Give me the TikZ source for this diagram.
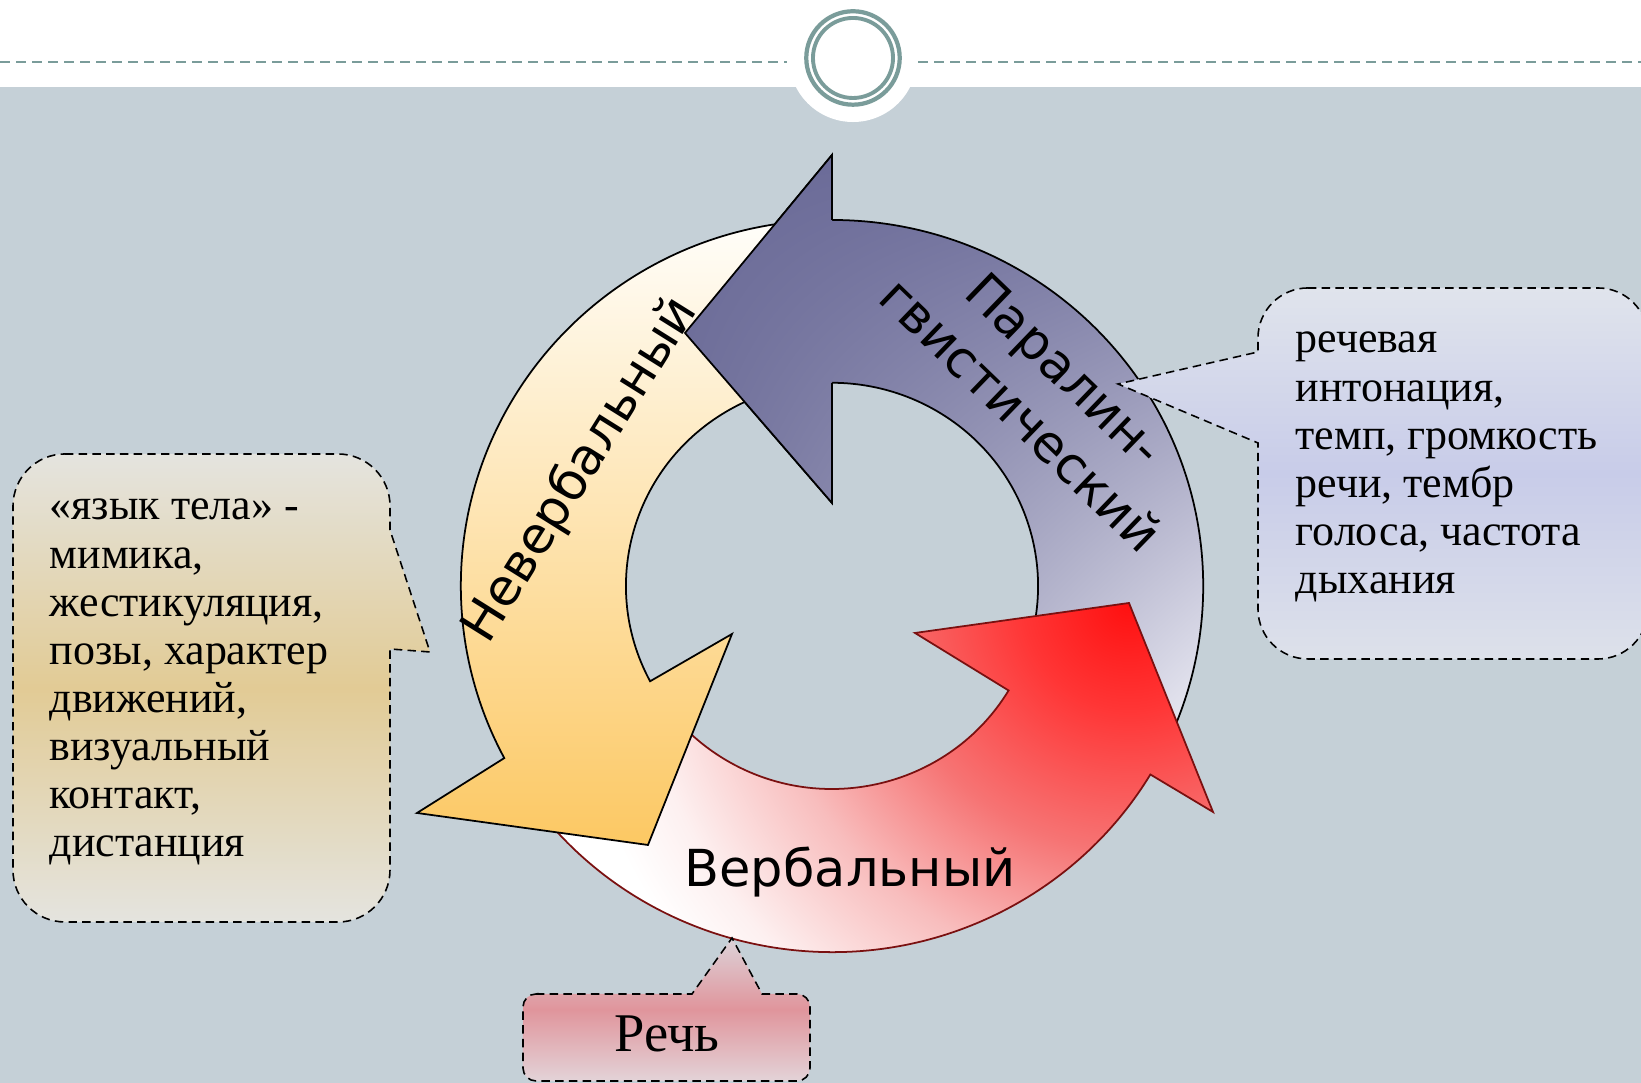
\documentclass[tikz,border=0pt]{standalone}
\usepackage{fontspec}
\setmainfont{Liberation Serif}
\newfontfamily\arrowfont{DejaVu Sans}
\usetikzlibrary{shadings}
\definecolor{bggray}{HTML}{C5D0D7}
\definecolor{tealline}{HTML}{7A9C9A}
\definecolor{redline}{HTML}{7A1010}
\definecolor{purpA}{HTML}{6A6A97}
\definecolor{purpB}{HTML}{6E6E9B}
\definecolor{purpC}{HTML}{77779F}
\definecolor{purpD}{HTML}{F4F4FA}
\definecolor{orTop}{HTML}{FFFEFA}
\definecolor{orBot}{HTML}{FCC863}
\definecolor{redA}{HTML}{FF1010}
\definecolor{redB}{HTML}{FF3535}
\definecolor{redC}{HTML}{F67474}
\definecolor{redD}{HTML}{F8BDBD}
\definecolor{redE}{HTML}{FDF0F0}
\definecolor{begeEnd}{HTML}{E4E4DF}
\definecolor{begeMid}{HTML}{E2CB95}
\definecolor{lavTop}{HTML}{E0E4EC}
\definecolor{lavMid}{HTML}{C8CCE9}
\definecolor{lavBot}{HTML}{DDE1EA}
\definecolor{pinkTop}{HTML}{DCD3D9}
\definecolor{pinkMid}{HTML}{E0959C}
\definecolor{pinkBot}{HTML}{E3D3D8}
\pgfdeclareradialshading{redglow}{\pgfpoint{0bp}{0bp}}{color(0bp)=(redA); color(30bp)=(redB); color(70bp)=(redC); color(105bp)=(redD); color(140bp)=(redE); color(160bp)=(white); color(220bp)=(white)}
\tikzset{
  purpfill/.style={upper left=purpA, upper right=purpB, lower left=purpC, lower right=purpD},
  orfill/.style={top color=orTop, bottom color=orBot},
  outline/.style={draw=black, line width=0.5pt, line join=miter},
  callout/.style={draw=black, line width=0.45pt, dash pattern=on 2.4pt off 1.5pt},
  arrowlabel/.style={font=\arrowfont\fontsize{14.5}{18}\selectfont, inner sep=0pt},
  callouttext/.style={font=\fontsize{12.5}{13.66}\selectfont, inner sep=0pt, anchor=base west},
  topdash/.style={tealline, line width=0.57pt, dash pattern=on 2.85pt off 1.7pt}
}
\begin{document}
\begin{tikzpicture}[x=0.01cm,y=0.01cm]
\useasboundingbox (0,0) rectangle (1641,1083);
\clip (0,0) rectangle (1641,1083);
% background
\fill[bggray] (0,0) rectangle (1641,1083);
\fill[white] (0,996) rectangle (1641,1083);
\fill[white] (853,1025) circle[radius=0.64cm];
\draw[topdash] (0,1021.3) -- (787,1021.3);
\draw[topdash] (918,1021.3) -- (1641,1021.3);
\draw[tealline, line width=1.2pt] (853,1025) circle[radius=0.467cm];
\draw[tealline, line width=1.1pt] (853,1025) circle[radius=0.40cm];

% purple arrow (full)
\shadedraw[purpfill, outline] (1012.2,398.6) arc[start angle=-29, end angle=90, x radius=2.06cm, y radius=2.03cm]
  -- (832,580) -- (685,750) -- (832,928) -- (832,863)
  arc[start angle=90, end angle=-29, x radius=3.71cm, y radius=3.66cm] -- cycle;
% red arrow
\path[draw=redline, line width=0.5pt, line join=miter,
  path picture={\begin{pgfscope}\pgftransformshift{\pgfpointxy{1129}{480}}\pgflowlevelsynccm\pgfuseshading{redglow}\end{pgfscope}}]
  (510.7,314)
  arc[start angle=210, end angle=329, x radius=3.71cm, y radius=3.66cm]
  -- (1213,271) -- (1129,480) -- (915,450) -- (1008.6,392.5)
  arc[start angle=329, end angle=210, x radius=2.06cm, y radius=2.03cm] -- cycle;
% orange arrow
\shadedraw[orfill, outline] (819.1,862.8)
  arc[start angle=92, end angle=208, x radius=3.71cm, y radius=3.66cm]
  -- (417,270) -- (648,238) -- (732,449) -- (650.1,401.7)
  arc[start angle=208, end angle=92, x radius=2.06cm, y radius=2.03cm] -- cycle;
% purple head on top
\begin{scope}
\clip (832,580) -- (685,750) -- (832,928) -- cycle;
\shade[purpfill] (1012.2,398.6) arc[start angle=-29, end angle=90, x radius=2.06cm, y radius=2.03cm]
  -- (832,580) -- (685,750) -- (832,928) -- (832,863)
  arc[start angle=90, end angle=-29, x radius=3.71cm, y radius=3.66cm] -- cycle;
\end{scope}
\draw[outline] (832,700) -- (832,580) -- (685,750) -- (832,928) -- (832,863);

% callouts
\path[callout, top color=begeEnd, bottom color=begeEnd, middle color=begeMid]
  (65,629) -- (338,629) arc[start angle=90, end angle=0, radius=0.52cm]
  -- (390,553) -- (430,431) -- (390,434) -- (390,213)
  arc[start angle=0, end angle=-90, radius=0.52cm] -- (65,161)
  arc[start angle=270, end angle=180, radius=0.52cm] -- (13,577)
  arc[start angle=180, end angle=90, radius=0.52cm] -- cycle;
\path[callout, top color=lavTop, bottom color=lavBot, middle color=lavMid]
  (1308,795) -- (1598,795) arc[start angle=90, end angle=0, radius=0.5cm]
  -- (1648,474) arc[start angle=0, end angle=-90, radius=0.5cm] -- (1308,424)
  arc[start angle=270, end angle=180, radius=0.5cm] -- (1258,640) -- (1118,699) -- (1258,731)
  -- (1258,745) arc[start angle=180, end angle=90, radius=0.5cm] -- cycle;
\path[callout, top color=pinkTop, bottom color=pinkBot, middle color=pinkMid]
  (536,89) -- (692,89) -- (732,145) -- (762,89) -- (797,89)
  arc[start angle=90, end angle=0, radius=0.13cm] -- (810,15)
  arc[start angle=0, end angle=-90, radius=0.13cm] -- (536,2)
  arc[start angle=270, end angle=180, radius=0.13cm] -- (523,76)
  arc[start angle=180, end angle=90, radius=0.13cm] -- cycle;

% labels
\node[arrowlabel, anchor=base] (verbal) at (850,196) {Вербальный};
\node[arrowlabel, rotate=58] (neverbal) at (581,613) {Невербальный};
\node[arrowlabel, rotate=-44, align=center] (paraling) at (1043,691) {Паралин-\\гвистический};

\node[callouttext] (lefttext) at (49,563) {\begin{tabular}[t]{@{}l@{}}«язык тела» -\\мимика,\\жестикуляция,\\позы, характер\\движений,\\визуальный\\контакт,\\дистанция\end{tabular}};
\node[callouttext] (righttext) at (1295,730) {\begin{tabular}[t]{@{}l@{}}речевая\\интонация,\\темп, громкость\\речи, тембр\\голоса, частота\\дыхания\end{tabular}};
\node[font=\fontsize{15.5}{17}\selectfont, inner sep=0pt, anchor=base] (rech) at (667,31) {Речь};
\end{tikzpicture}
\end{document}
